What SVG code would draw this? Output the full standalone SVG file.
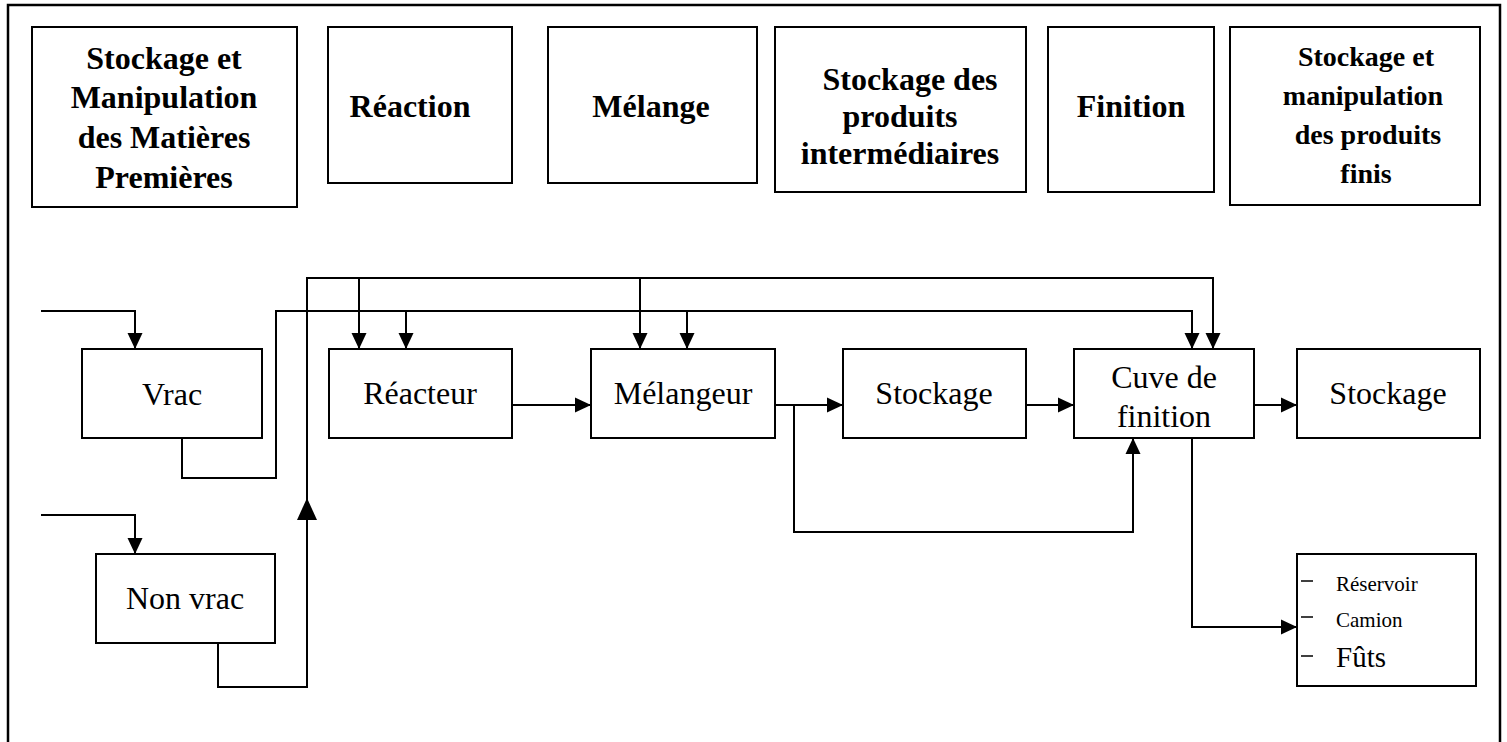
<svg xmlns="http://www.w3.org/2000/svg" width="1507" height="742" viewBox="0 0 1507 742">
<style>
.box{fill:#fff;stroke:#000;stroke-width:2}
.hd{font-family:"Liberation Serif","Times New Roman",serif;font-weight:bold;font-size:32px;text-anchor:middle;fill:#000}
.lb{font-family:"Liberation Serif","Times New Roman",serif;font-size:32px;text-anchor:middle;fill:#000}
.sm{font-family:"Liberation Serif","Times New Roman",serif;font-size:21px;fill:#000}
.ln{fill:none;stroke:#000;stroke-width:2}
.ar{fill:none;stroke:#000;stroke-width:2;marker-end:url(#ah)}
</style>
<defs>
<marker id="ah" markerUnits="userSpaceOnUse" markerWidth="17" markerHeight="17" viewBox="0 0 17 17" refX="16" refY="8.5" orient="auto"><path d="M0,1 L16,8.5 L0,16 z" fill="#000"/></marker>
<marker id="ahb" markerUnits="userSpaceOnUse" markerWidth="23" markerHeight="22" viewBox="0 0 23 22" refX="22" refY="11" orient="auto"><path d="M0,1 L22,11 L0,21 z" fill="#000"/></marker>
</defs>
<rect width="1507" height="742" fill="#fff"/>
<path d="M8,742 V5 H1500 V742" fill="none" stroke="#000" stroke-width="2.5"/>

<g id="h1"><rect class="box" x="32" y="27" width="265" height="180"/>
<text class="hd" x="164" y="69">Stockage et</text><text class="hd" x="164" y="108">Manipulation</text><text class="hd" x="164" y="148">des Matières</text><text class="hd" x="164" y="188">Premières</text></g>
<g id="h2"><rect class="box" x="328" y="27" width="184" height="156"/><text class="hd" x="410" y="117">Réaction</text></g>
<g id="h3"><rect class="box" x="548" y="27" width="209" height="156"/><text class="hd" x="651" y="117">Mélange</text></g>
<g id="h4"><rect class="box" x="775" y="27" width="251" height="165"/>
<text class="hd" x="910" y="90">Stockage des</text><text class="hd" x="900" y="127">produits</text><text class="hd" x="900" y="164">intermédiaires</text></g>
<g id="h5"><rect class="box" x="1048" y="27" width="166" height="165"/><text class="hd" x="1131" y="117">Finition</text></g>
<g id="h6"><rect class="box" x="1230" y="27" width="250" height="178"/>
<g style="font-size:28px"><text class="hd" x="1366" y="66" style="font-size:28px">Stockage et</text><text class="hd" x="1363" y="105" style="font-size:28px">manipulation</text><text class="hd" x="1368" y="144" style="font-size:28px">des produits</text><text class="hd" x="1366" y="183" style="font-size:28px">finis</text></g></g>

<g id="connectors">
<path class="ar" d="M41,311 H135 V349"/>
<path class="ar" d="M41,515 H135 V554"/>
<path class="ar" d="M218,643 V687 H307 V498" style="marker-end:url(#ahb)"/>
<path class="ar" d="M307,498 V278 H1213 V349"/>
<path class="ar" d="M182,438 V478 H276 V311 H1192 V349"/>
<path class="ar" d="M359,278 V349"/>
<path class="ar" d="M406,311 V349"/>
<path class="ar" d="M640,278 V349"/>
<path class="ar" d="M687,311 V349"/>
<path class="ar" d="M512,405 H591"/>
<path class="ar" d="M775,405 H843"/>
<path class="ar" d="M794,405 V532 H1133 V438"/>
<path class="ar" d="M1026,405 H1074"/>
<path class="ar" d="M1254,405 H1297"/>
<path class="ar" d="M1192,438 V627 H1297"/>
</g>

<g id="vrac"><rect class="box" x="82" y="349" width="180" height="89"/><text class="lb" x="172" y="405">Vrac</text></g>
<g id="nonvrac"><rect class="box" x="96" y="554" width="179" height="89"/><text class="lb" x="185" y="609">Non vrac</text></g>
<g id="reacteur"><rect class="box" x="329" y="349" width="183" height="89"/><text class="lb" x="420" y="404">Réacteur</text></g>
<g id="melangeur"><rect class="box" x="591" y="349" width="184" height="89"/><text class="lb" x="683" y="404">Mélangeur</text></g>
<g id="stockage1"><rect class="box" x="843" y="349" width="183" height="89"/><text class="lb" x="934" y="404">Stockage</text></g>
<g id="cuve"><rect class="box" x="1074" y="349" width="180" height="89"/><text class="lb" x="1164" y="388">Cuve de</text><text class="lb" x="1164" y="427">finition</text></g>
<g id="stockage2"><rect class="box" x="1297" y="349" width="183" height="89"/><text class="lb" x="1388" y="404">Stockage</text></g>
<g id="sortie"><rect class="box" x="1297" y="554" width="179" height="132"/>
<path d="M1301,581 H1313 M1301,617 H1313 M1301,656 H1313" stroke="#000" stroke-width="1.5"/>
<text class="sm" x="1336" y="591">Réservoir</text><text class="sm" x="1336" y="627">Camion</text><text class="sm" x="1336" y="667" style="font-size:29px">Fûts</text></g>
</svg>
